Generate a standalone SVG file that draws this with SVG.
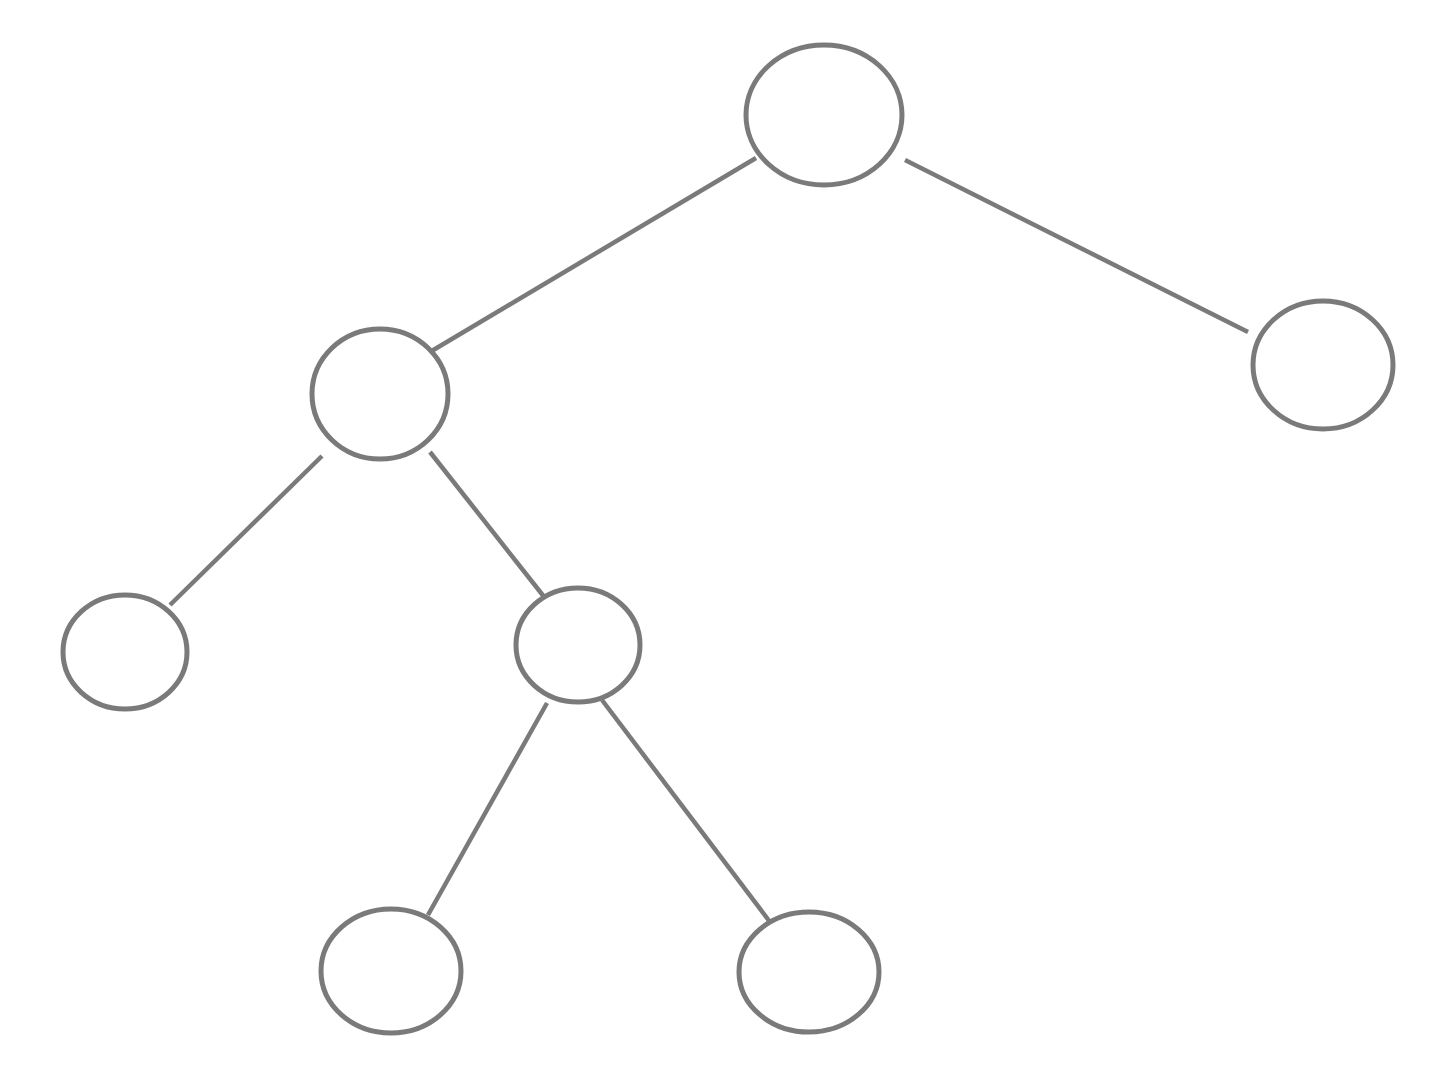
<svg xmlns="http://www.w3.org/2000/svg" width="1440" height="1082" viewBox="0 0 1440 1082">
<style>
.n{fill:none;stroke:#7a7a7a;stroke-width:5}
.e{stroke:#7a7a7a;stroke-width:4.5;fill:none}
</style>
<rect width="1440" height="1082" fill="#ffffff"/>
<g id="connectors">
<line class="e" x1="756" y1="158" x2="430" y2="352"/>
<line class="e" x1="905" y1="160" x2="1248" y2="332"/>
<line class="e" x1="322" y1="456" x2="170" y2="605"/>
<line class="e" x1="430" y1="452" x2="545" y2="598"/>
<line class="e" x1="547" y1="703" x2="428" y2="915"/>
<line class="e" x1="602" y1="700" x2="770" y2="922"/>
</g>
<g id="root"><ellipse class="n" cx="824" cy="115" rx="78" ry="70"/></g>
<g id="left"><ellipse class="n" cx="380" cy="394" rx="68" ry="65"/></g>
<g id="right"><ellipse class="n" cx="1323" cy="365" rx="70" ry="64"/></g>
<g id="leftleft"><ellipse class="n" cx="125" cy="652" rx="62" ry="57"/></g>
<g id="leftright"><ellipse class="n" cx="578" cy="645" rx="62" ry="57"/></g>
<g id="bottomleft"><ellipse class="n" cx="391" cy="971" rx="70" ry="62"/></g>
<g id="bottomright"><ellipse class="n" cx="809" cy="972" rx="70" ry="60"/></g>
</svg>
